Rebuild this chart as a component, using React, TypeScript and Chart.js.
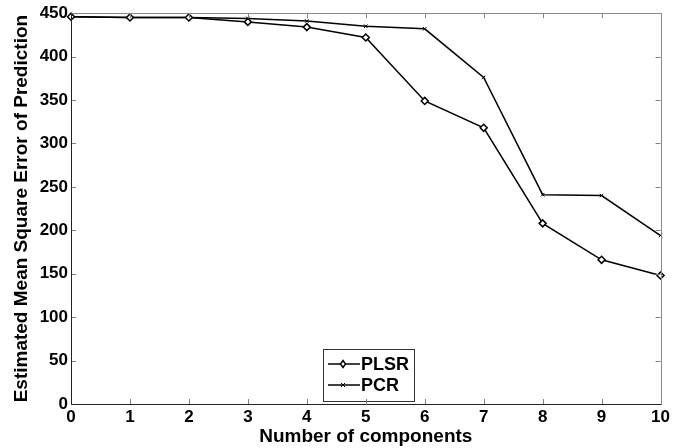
import React, { useEffect, useRef } from "react";
import { Chart, registerables } from "chart.js";

Chart.register(...registerables);

const components = ["0", "1", "2", "3", "4", "5", "6", "7", "8", "9", "10"];
const plsrValues = [446, 445, 445, 440, 434, 422, 349, 318, 208, 166, 148];
const pcrValues = [446, 445, 445, 444, 441, 435, 432, 376, 241, 240, 194];
const seriesNames = ["PLSR", "PCR"];
const xTitle = "Number of components";
const yTitle = "Estimated Mean Square Error of Prediction";

const FONT = "'Liberation Sans', Arial, sans-serif";

const boxTicksPlugin = {
  id: "boxTicks",
  afterDraw(chart: any) {
    const { ctx, chartArea } = chart;
    const { left, right, top, bottom } = chartArea;
    const xs = chart.scales.x;
    const ys = chart.scales.y;
    ctx.save();
    ctx.lineWidth = 1;
    ctx.strokeStyle = "#808080";
    const len = 5;
    ctx.beginPath();
    ys.ticks.forEach((t: any) => {
      const y = Math.round(ys.getPixelForValue(t.value)) + 0.5;
      ctx.moveTo(left, y);
      ctx.lineTo(left + len, y);
      ctx.moveTo(right, y);
      ctx.lineTo(right - len, y);
    });
    xs.ticks.forEach((t: any, i: number) => {
      const x = Math.round(xs.getPixelForTick(i)) + 0.5;
      ctx.moveTo(x, bottom);
      ctx.lineTo(x, bottom - len);
      ctx.moveTo(x, top);
      ctx.lineTo(x, top + len);
    });
    ctx.stroke();
    ctx.strokeStyle = "#888888";
    ctx.beginPath();
    ctx.moveTo(Math.round(left) + 0.5, Math.round(top) + 0.5);
    ctx.lineTo(Math.round(right) + 0.5, Math.round(top) + 0.5);
    ctx.lineTo(Math.round(right) + 0.5, Math.round(bottom) + 0.5);
    ctx.stroke();
    ctx.strokeStyle = "#222222";
    ctx.beginPath();
    ctx.moveTo(Math.round(left) + 0.5, Math.round(top) + 0.5);
    ctx.lineTo(Math.round(left) + 0.5, Math.round(bottom) + 0.5);
    ctx.lineTo(Math.round(right) + 0.5, Math.round(bottom) + 0.5);
    ctx.stroke();
    ctx.restore();
  },
};

const legendPlugin = {
  id: "boxLegend",
  afterDatasetsDraw(chart: any) {
    const { ctx } = chart;
    const x0 = 323, y0 = 349, w = 91, h = 52;
    ctx.save();
    ctx.fillStyle = "#ffffff";
    ctx.fillRect(x0, y0, w, h);
    ctx.strokeStyle = "#333333";
    ctx.lineWidth = 1;
    ctx.strokeRect(x0 + 0.5, y0 + 0.5, w, h);
    const rows = [
      { y: 364, name: seriesNames[0], marker: "diamond" },
      { y: 385, name: seriesNames[1], marker: "x" },
    ];
    rows.forEach((r) => {
      ctx.strokeStyle = "#000";
      ctx.lineWidth = 1.5;
      ctx.beginPath();
      ctx.moveTo(328, r.y);
      ctx.lineTo(360, r.y);
      ctx.stroke();
      const mx = 343;
      if (r.marker === "diamond") {
        ctx.fillStyle = "#fff";
        ctx.beginPath();
        ctx.moveTo(mx, r.y - 3.5);
        ctx.lineTo(mx + 2.5, r.y);
        ctx.lineTo(mx, r.y + 3.5);
        ctx.lineTo(mx - 2.5, r.y);
        ctx.closePath();
        ctx.fill();
        ctx.stroke();
      } else {
        ctx.lineWidth = 1;
        ctx.beginPath();
        ctx.moveTo(mx - 2, r.y - 2);
        ctx.lineTo(mx + 2, r.y + 2);
        ctx.moveTo(mx + 2, r.y - 2);
        ctx.lineTo(mx - 2, r.y + 2);
        ctx.stroke();
      }
      ctx.fillStyle = "#000";
      ctx.font = `bold 18px ${FONT}`;
      ctx.textBaseline = "middle";
      ctx.textAlign = "left";
      ctx.fillText(r.name, 361, r.y + 1);
    });
    ctx.restore();
  },
};

export default function App() {
  const ref = useRef<HTMLCanvasElement | null>(null);
  useEffect(() => {
    document.body.style.margin = "0";
    const canvas = ref.current!;
    const chart = new Chart(canvas, {
      type: "line",
      data: {
        labels: components,
        datasets: [
          {
            label: seriesNames[0],
            data: plsrValues,
            borderColor: "#000",
            borderWidth: 1.5,
            pointStyle: "rectRot",
            pointRadius: 3.5,
            pointBorderWidth: 1.5,
            pointBackgroundColor: "#fff",
            pointBorderColor: "#000",
            tension: 0,
            clip: false as any,
          },
          {
            label: seriesNames[1],
            data: pcrValues,
            borderColor: "#000",
            borderWidth: 1.5,
            pointStyle: "crossRot",
            pointRadius: 2.5,
            pointBorderWidth: 1,
            pointBorderColor: "#000",
            tension: 0,
            clip: false as any,
          },
        ],
      },
      options: {
        responsive: false,
        animation: false,
        devicePixelRatio: 1,
        layout: { padding: { left: 10, right: 9, top: 13, bottom: 0 } },
        plugins: { legend: { display: false }, tooltip: { enabled: false } },
        scales: {
          x: {
            type: "category",
            offset: false,
            grid: { display: false, drawTicks: false },
            border: { display: false },
            ticks: {
              color: "#000",
              font: { family: FONT, size: 17, weight: "bold" },
              padding: 3,
              maxRotation: 0,
              autoSkip: false,
            },
            title: {
              display: true,
              text: xTitle,
              color: "#000",
              font: { family: FONT, size: 19, weight: "bold" },
              padding: 0,
            },
            afterFit: (s: any) => {
              s.height = 44;
            },
          },
          y: {
            min: 0,
            max: 450,
            grid: { display: false, drawTicks: false },
            border: { display: false },
            ticks: {
              stepSize: 50,
              color: "#000",
              font: { family: FONT, size: 17, weight: "bold" },
              padding: 3,
            },
            title: {
              display: true,
              text: yTitle,
              color: "#000",
              font: { family: FONT, size: 19, weight: "bold" },
              padding: 0,
            },
            afterFit: (s: any) => {
              s.width = 61;
            },
          },
        },
      },
      plugins: [boxTicksPlugin, legendPlugin],
    });
    return () => chart.destroy();
  }, []);
  return <canvas ref={ref} width={673} height={448} style={{ display: "block" }} />;
}
